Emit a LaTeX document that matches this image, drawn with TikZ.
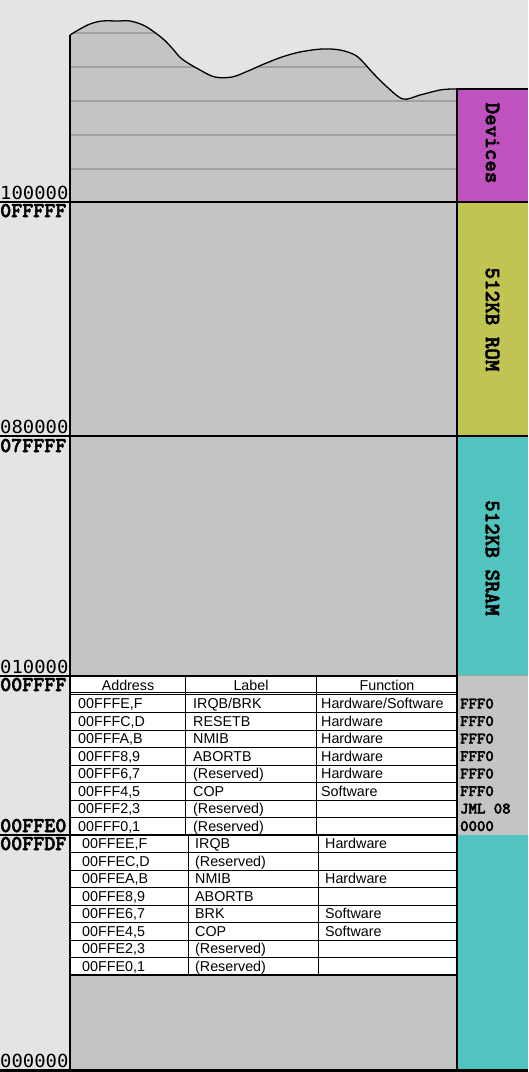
\documentclass[tikz,border=0pt]{standalone}
\usepackage{fontspec}
\setmainfont{Liberation Sans}
\newfontfamily\lowfont{DejaVu Sans Mono}[FakeStretch=1.05]
\newfontfamily\slabfont{lmmonolt10-bold.otf}[FakeBold=2.5]
\definecolor{pagegray}{HTML}{E4E4E4}
\definecolor{memgray}{HTML}{C4C4C4}
\definecolor{linegray}{HTML}{A0A0A0}
\definecolor{devcolor}{HTML}{C052C0}
\definecolor{romcolor}{HTML}{C0C453}
\definecolor{sramcolor}{HTML}{52C4BF}
\begin{document}
\begin{tikzpicture}[x=1pt, y=-1pt,
            border/.style={line width=2pt},
            cellline/.style={line width=0.8pt},
            hexhi/.style={font=\slabfont\fontsize{21}{21}\selectfont, anchor=base west, inner sep=0pt, text height=12pt, text depth=0pt},
            hexlo/.style={font=\lowfont\fontsize{18}{18}\selectfont, anchor=base west, inner sep=0pt, text height=12pt, text depth=0pt},
            blocklabel/.style={font=\slabfont\fontsize{22}{22}\selectfont, rotate=-90, inner sep=0pt},
            celltext/.style={font=\fontsize{14.3}{14.3}\selectfont, anchor=base west, inner sep=0pt},
            headtext/.style={font=\fontsize{14.3}{14.3}\selectfont, anchor=base, inner sep=0pt},
            vecbyte/.style={font=\slabfont\fontsize{16}{16}\selectfont, anchor=base west, inner sep=0pt},
        ]
            \useasboundingbox (0,0) rectangle (528,1072);
            \fill[pagegray] (0,0) rectangle (528,1072);
            \def\wavepath{(70,202) -- plot[smooth, tension=0.55] coordinates {(70,35) (80,29) (90,24) (102,21) (118,21) (130,21) (145,26) (162,38) (172,48) (182,59) (200,70) (215,77) (232,77) (248,71) (264,64) (282,57) (300,52) (322,49) (340,50) (355,55) (364,63) (372,72) (386,86) (403,99) (420,95) (440,90) (452,89)} -- (457,89) -- (457,202) -- cycle}
            \fill[memgray] \wavepath;
            \begin{scope}
                \clip \wavepath;
                \foreach \y in {33,67,101,135,169}
                    \draw[linegray, line width=1.2pt] (70,\y) -- (457,\y);
            \end{scope}
            \draw[line width=1.3pt] plot[smooth, tension=0.55] coordinates {(70,35) (80,29) (90,24) (102,21) (118,21) (130,21) (145,26) (162,38) (172,48) (182,59) (200,70) (215,77) (232,77) (248,71) (264,64) (282,57) (300,52) (322,49) (340,50) (355,55) (364,63) (372,72) (386,86) (403,99) (420,95) (440,90) (452,89)} -- (457,89);
            \fill[memgray] (70,202) rectangle (457,1070);
            % right column
            \fill[devcolor] (457,89) rectangle (528,202);
            \fill[romcolor] (457,202) rectangle (528,437);
            \fill[sramcolor] (457,437) rectangle (528,1070);
            \fill[memgray] (457,676) rectangle (528,835);
            \draw[linegray, line width=1pt] (457,675.5) -- (528,675.5);
            \node[blocklabel](devlabel) at (492.5,143) {Devices};
            \node[blocklabel](romlabel) at (492.5,319.5) {512KB ROM};
            \node[blocklabel](sramlabel) at (492.5,558) {512KB SRAM};
            % vector tables
            \fill[white] (70,676) rectangle (457,975);
            \foreach \k in {1,...,7} {
                \draw[cellline] (70,695+17.5*\k) -- (457,695+17.5*\k);
                \draw[cellline] (70,835+17.5*\k) -- (457,835+17.5*\k);
            }
            \draw[cellline] (70,692.6) -- (457,692.6);
            \draw[cellline] (70,694.8) -- (457,694.8);
            \draw[cellline] (185,676) -- (185,835);
            \draw[cellline] (316,676) -- (316,835);
            \draw[cellline] (188.5,835) -- (188.5,975);
            \draw[cellline] (318,835) -- (318,975);
            \node[headtext](addrhead) at (128,690) {Address};
            \node[headtext](labelhead) at (251,690) {Label};
            \node[headtext](funchead) at (387,690) {Function};
            \foreach \a/\l/\f/\b [count=\i from 0] in {{00FFFE,F}/{IRQB/BRK}/{Hardware/Software}/FFF0, {00FFFC,D}/RESETB/Hardware/FFF0, {00FFFA,B}/NMIB/Hardware/FFF0, {00FFF8,9}/ABORTB/Hardware/FFF0, {00FFF6,7}/(Reserved)/Hardware/FFF0, {00FFF4,5}/COP/Software/FFF0, {00FFF2,3}/(Reserved)/{}/{JML 08}, {00FFF0,1}/(Reserved)/{}/0000} {
                \node[celltext](nataddr\i) at (78,708.5+17.5*\i) {\a};
                \node[celltext](natlabel\i) at (193,708.5+17.5*\i) {\l};
                \node[celltext](natfunc\i) at (321,708.5+17.5*\i) {\f};
                \node[vecbyte](natbyte\i) at (460,708.5+17.5*\i) {\b};
            }
            \foreach \a/\l/\f [count=\i from 0] in {{00FFEE,F}/IRQB/Hardware, {00FFEC,D}/(Reserved)/{}, {00FFEA,B}/NMIB/Hardware, {00FFE8,9}/ABORTB/{}, {00FFE6,7}/BRK/Software, {00FFE4,5}/COP/Software, {00FFE2,3}/(Reserved)/{}, {00FFE0,1}/(Reserved)/{}} {
                \node[celltext](emuaddr\i) at (82,848.5+17.5*\i) {\a};
                \node[celltext](emulabel\i) at (195,848.5+17.5*\i) {\l};
                \node[celltext](emufunc\i) at (325,848.5+17.5*\i) {\f};
            }
            % borders
            \draw[border] (0,202) -- (528,202);
            \draw[border] (0,436) -- (528,436);
            \draw[border] (0,676) -- (457,676);
            \draw[border] (0,835) -- (457,835);
            \draw[border] (70,975) -- (457,975);
            \draw[line width=3pt] (0,1070.5) -- (528,1070.5);
            \draw[border] (70,35) -- (70,1070);
            \draw[border] (457,88) -- (457,1070);
            \draw[border] (457,89) -- (528,89);
            % addresses
            \node[hexlo](a100000) at (0,199) {100000};
            \node[hexhi](a0FFFFF) at (0,217) {0FFFFF};
            \node[hexlo](a080000) at (0,433) {080000};
            \node[hexhi](a07FFFF) at (0,452) {07FFFF};
            \node[hexlo](a010000) at (0,673) {010000};
            \node[hexhi](a00FFFF) at (0,691) {00FFFF};
            \node[hexhi](a00FFE0) at (0,832) {00FFE0};
            \node[hexhi](a00FFDF) at (0,850) {00FFDF};
            \node[hexlo](a000000) at (0,1067) {000000};
        \end{tikzpicture}
\end{document}
